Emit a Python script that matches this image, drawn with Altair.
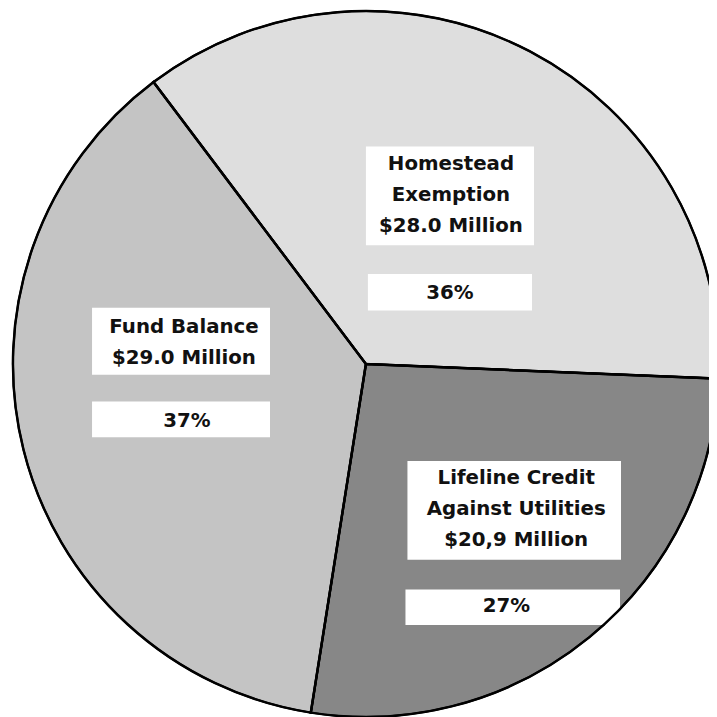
import math
import altair as alt
import pandas as pd

# ---------------- data ----------------
categories = ["Homestead Exemption", "Lifeline Credit Against Utilities", "Fund Balance"]
amounts_musd = [28.0, 20.9, 29.0]
name_lines = [["Homestead", "Exemption"], ["Lifeline Credit", "Against Utilities"], ["Fund Balance"]]
amount_labels = ["$28.0 Million", "$20,9 Million", "$29.0 Million"]
percent_labels = ["36%", "27%", "37%"]

# ---------------- style / layout ----------------
fills = ["#dedede", "#878787", "#c4c4c4"]
W, H = 709, 709
CX, CY, R = 362, 356, 357          # pie centre / radius in view pixels
START_DEG = 323                    # where the first slice starts (clockwise from 12 o'clock)
FONT = "DejaVu Sans"
FS = 20
LH = 31.5
M = 8  # page margin, layout numbers below are page pixels

layout = {
    "Homestead Exemption": dict(tx=456, ty=168, box=(370, 144, 540, 244),
                                px=455, py=298, pbox=(372, 273, 538, 310)),
    "Lifeline Credit Against Utilities": dict(tx=522, ty=485, box=(412, 462, 628, 562),
                                              px=512, py=615, pbox=(410, 592, 627, 628)),
    "Fund Balance": dict(tx=186, ty=333, box=(93, 307, 273, 375),
                         px=189, py=428, pbox=(93, 402, 273, 438)),
}

df = pd.DataFrame({"category": categories, "amount": amounts_musd,
                   "order": list(range(len(categories)))})

rows = []
for cat, names, amt, pct in zip(categories, name_lines, amount_labels, percent_labels):
    L = layout[cat]
    rows.append(dict(
        category=cat, block="\n".join(names + [amt]), pct=pct,
        tx=L["tx"] - M, ty=L["ty"] - M, px=L["px"] - M, py=L["py"] - M,
        bx1=L["box"][0] - M, by1=L["box"][1] - M, bx2=L["box"][2] - M, by2=L["box"][3] - M,
        qx1=L["pbox"][0] - M, qy1=L["pbox"][1] - M, qx2=L["pbox"][2] - M, qy2=L["pbox"][3] - M,
    ))
labels = pd.DataFrame(rows)

theta_range = [math.radians(START_DEG), math.radians(START_DEG) + 2 * math.pi]
theta = alt.Theta("amount:Q", stack=True, scale=alt.Scale(range=theta_range))

pie = alt.Chart(df).mark_arc(outerRadius=R, stroke="black", strokeWidth=2).encode(
    theta=theta,
    order=alt.Order("order:Q"),
    color=alt.Color("category:N", scale=alt.Scale(domain=categories, range=fills), legend=None),
    x=alt.value(CX), y=alt.value(CY),
)

outline = alt.Chart(df).mark_arc(outerRadius=R, stroke="black", strokeWidth=2.5,
                                 fill="white", fillOpacity=0).encode(
    theta=theta, order=alt.Order("order:Q"), x=alt.value(CX), y=alt.value(CY),
)

lab = alt.Chart(labels)
boxes = lab.mark_rect(fill="white").encode(
    x=alt.X("bx1:Q", scale=None, axis=None), x2="bx2:Q",
    y=alt.Y("by1:Q", scale=None, axis=None), y2="by2:Q",
)
pboxes = lab.mark_rect(fill="white").encode(
    x=alt.X("qx1:Q", scale=None, axis=None), x2="qx2:Q",
    y=alt.Y("qy1:Q", scale=None, axis=None), y2="qy2:Q",
)
block_text = lab.mark_text(font=FONT, fontSize=FS, fontWeight="bold", lineBreak="\n",
                           lineHeight=LH, align="center", baseline="alphabetic",
                           color="#111111").encode(
    x=alt.X("tx:Q", scale=None, axis=None), y=alt.Y("ty:Q", scale=None, axis=None),
    text="block:N",
)
pct_text = lab.mark_text(font=FONT, fontSize=FS, fontWeight="bold", align="center",
                         baseline="alphabetic", color="#111111").encode(
    x=alt.X("px:Q", scale=None, axis=None), y=alt.Y("py:Q", scale=None, axis=None),
    text="pct:N",
)

chart = alt.layer(pie, boxes, pboxes, outline, block_text, pct_text).properties(
    width=W, height=H, padding=0, background="white",
    autosize=alt.AutoSizeParams(type="none"),
).configure_view(stroke=None)

chart.save("out.html", embed_options={"renderer": "svg", "actions": False})
